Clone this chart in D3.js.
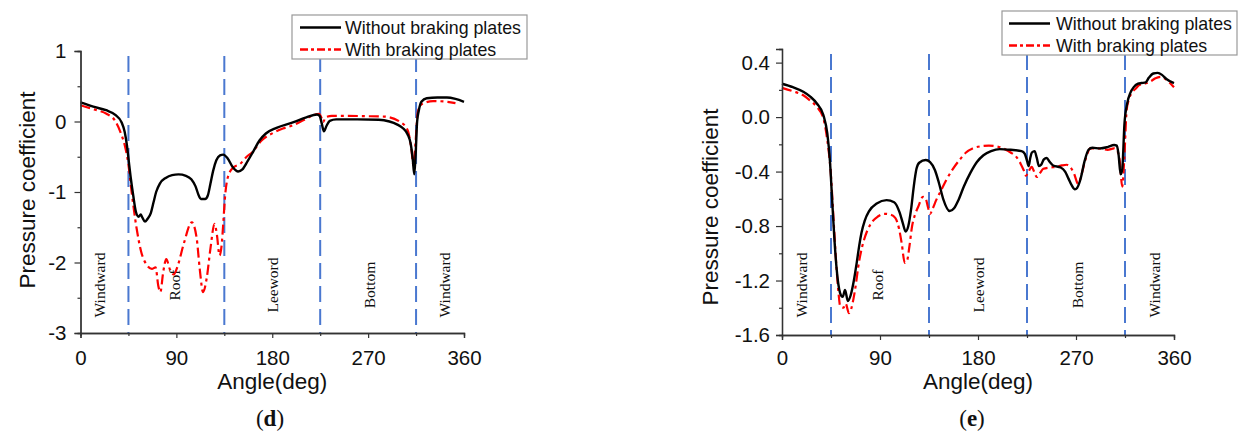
<!DOCTYPE html>
<html><head><meta charset="utf-8">
<script src="https://cdn.jsdelivr.net/npm/d3@7"></script>
<style>
html,body{margin:0;padding:0;background:#fff;}
svg{display:block;}
</style></head>
<body>
<svg id="chart" width="1239" height="432"></svg>
<script>
// ---------- data ----------
const angleTicks = [0, 90, 180, 270, 360];
const angleMinorTicks = [45, 135, 225, 315];
const dYTicks = [1, 0, -1, -2, -3];
const dYMinor = [0.5, -0.5, -1.5, -2.5];
const eYTicks = [0.4, 0.0, -0.4, -0.8, -1.2, -1.6];
const eYMinor = [0.2, -0.2, -0.6, -1.0, -1.4];
const regionBounds = [45, 135, 225, 315];
const regionNames = ["Windward", "Roof", "Leeword", "Bottom", "Windward"];
const regionAngles = [18, 88, 180, 271, 342];
const seriesNames = ["Without braking plates", "With braking plates"];

// panel (d)
const dAngWithout = [0,12,24,33,38.5,41.5,43.5,45,47,49.5,52,54.5,56.5,58,60.5,63,66,68.5,71,74.5,80,86,92,99,104,108,111,113,117,119.5,122,124.5,127.5,131,134,138,143,148,152,157,162,168,174,184,200,212,222,224.5,226.5,228.5,231,234,240,260,280,290,297,303,307,310,312,313.3,314.5,316,317.5,320,325,335,344,352,360];
const dCpWithout  = [0.27,0.21,0.16,0.09,-0.01,-0.15,-0.33,-0.52,-0.78,-1.05,-1.28,-1.35,-1.32,-1.36,-1.42,-1.38,-1.3,-1.15,-1.0,-0.88,-0.8,-0.76,-0.75,-0.77,-0.82,-0.92,-1.05,-1.1,-1.1,-1.05,-0.88,-0.7,-0.55,-0.48,-0.47,-0.52,-0.65,-0.71,-0.68,-0.56,-0.43,-0.27,-0.17,-0.09,-0.01,0.06,0.1,0.08,-0.03,-0.14,-0.06,0.01,0.03,0.03,0.025,0.0,-0.04,-0.1,-0.18,-0.32,-0.55,-0.75,-0.5,0.0,0.15,0.28,0.33,0.34,0.34,0.32,0.28];
const dAngWith = [0,12,24.4,32,38,41.6,44.7,48,52.5,57,62,67,70.5,73,75,77.5,80.5,84,87.5,91,97,104.5,109,112,115,118.5,122,125.8,128,130.5,132.3,134,135.5,138.5,143,150,156,161,170,181,190,200,212,220,224,226.5,227.8,230,236,250,270,285,300,307,310.5,312.5,314.5,316.5,319,324,331,344,352];
const dCpWith  = [0.23,0.175,0.11,0.02,-0.17,-0.34,-0.58,-1.0,-1.5,-1.85,-2.03,-2.09,-2.07,-2.33,-2.42,-2.15,-1.95,-2.1,-2.17,-2.06,-1.73,-1.43,-1.65,-2.1,-2.42,-2.22,-1.8,-1.45,-1.6,-1.9,-1.78,-1.45,-1.1,-0.78,-0.66,-0.6,-0.5,-0.44,-0.27,-0.16,-0.1,-0.05,0.04,0.1,0.11,0.04,-0.01,0.06,0.08,0.08,0.075,0.07,-0.005,-0.12,-0.38,-0.62,-0.3,0.12,0.23,0.27,0.29,0.28,0.26];

// panel (e)
const eAngWithout = [0,10,19.6,26,32,38,41.6,44,46,48,50,53.3,55.7,57.9,60.5,63,66,68.6,71,73,76,80,87,96,103,108,111,113.5,116,118.5,121,123.5,126,132,136,140.5,144,148,154,158,162,167,173,179,185,192,200,210,220,223,225,226.5,228,229.5,232,234,236,238,240.5,243,246,249,256,260,263,266,269,271,274,278,281.5,285,292,299,305,307.5,309,311,312.5,314.5,317,320,323,327,330,334,337,341,345,349,353,360];
const eCpWithout  = [0.245,0.22,0.186,0.15,0.10,0.015,-0.12,-0.32,-0.6,-0.88,-1.1,-1.29,-1.32,-1.27,-1.35,-1.31,-1.2,-1.07,-0.94,-0.85,-0.76,-0.69,-0.635,-0.61,-0.625,-0.7,-0.78,-0.84,-0.8,-0.68,-0.51,-0.38,-0.335,-0.315,-0.33,-0.39,-0.48,-0.6,-0.69,-0.67,-0.61,-0.51,-0.41,-0.33,-0.28,-0.25,-0.235,-0.24,-0.25,-0.27,-0.32,-0.36,-0.3,-0.26,-0.25,-0.3,-0.36,-0.35,-0.31,-0.3,-0.33,-0.355,-0.37,-0.4,-0.45,-0.5,-0.53,-0.52,-0.46,-0.32,-0.24,-0.225,-0.23,-0.22,-0.205,-0.21,-0.27,-0.42,-0.38,-0.05,0.1,0.18,0.22,0.245,0.25,0.255,0.29,0.32,0.325,0.31,0.28,0.25];
const eAngWith = [0,10,19.6,26,32,38,41.6,44.6,47.7,50,52,53.5,56.5,58.5,61.5,63.5,65.5,68,70,72.5,75,78,81,88,94,99,104,107.5,110,112.7,115,117,119.5,122,125,129.5,132,134,136,138.5,141.6,146,151,157,163,169,175,182,190,197,203,210,215,219,222,224,226.5,229.3,232,234,237,240,246,252,257,261.5,265,268,272,274.5,277,280,283,290,299,305,308,310,312.5,314.3,316.5,318.5,321,325,328,335,339,343,348,353,357,360];
const eCpWith  = [0.215,0.19,0.16,0.12,0.075,-0.01,-0.17,-0.39,-0.8,-1.1,-1.3,-1.39,-1.4,-1.37,-1.44,-1.41,-1.34,-1.22,-1.1,-0.99,-0.91,-0.84,-0.79,-0.73,-0.71,-0.715,-0.74,-0.82,-0.93,-1.07,-1.05,-0.95,-0.8,-0.72,-0.66,-0.585,-0.6,-0.66,-0.71,-0.67,-0.61,-0.54,-0.46,-0.38,-0.315,-0.26,-0.23,-0.215,-0.21,-0.215,-0.23,-0.26,-0.29,-0.34,-0.39,-0.43,-0.4,-0.365,-0.41,-0.44,-0.41,-0.38,-0.37,-0.365,-0.355,-0.35,-0.37,-0.41,-0.49,-0.44,-0.36,-0.28,-0.23,-0.23,-0.24,-0.23,-0.25,-0.31,-0.51,-0.31,0.05,0.13,0.175,0.21,0.235,0.25,0.265,0.285,0.295,0.275,0.245,0.22];

// ---------- layout ----------
const panels = [
  {
    x0: 80.5, x1: 464, yTop: 51, yBot: 333, yDomain: [-3, 1],
    yTicks: dYTicks, yMinor: dYMinor, yFmt: d => d3.format("d")(d).replace("−","-"),
    without: [dAngWithout, dCpWithout], withp: [dAngWith, dCpWith],
    yLabelX: 27, yLabelY: 190, tickPad: 8, xLabPad: 12,
    legend: {x: 292, y: 15, w: 235, h: 44, lx: 300, tx: 345},
    tag: "d", tagX: 270, dashTop: 56
  },
  {
    x0: 782, x1: 1174, yTop: 49, yBot: 335, yDomain: [-1.6, 0.5],
    yTicks: eYTicks, yMinor: eYMinor, yFmt: d => d3.format(".1f")(d).replace("−","-"),
    without: [eAngWithout, eCpWithout], withp: [eAngWith, eCpWith],
    yLabelX: 710, yLabelY: 207, tickPad: 6, xLabPad: 10,
    legend: {x: 1002, y: 11, w: 235, h: 44, lx: 1009, tx: 1056},
    tag: "e", tagX: 972, dashTop: 54
  }
];

const svg = d3.select("#chart");
const sans = "'Liberation Sans', Arial, sans-serif";
const serif = "'Liberation Serif', 'Times New Roman', serif";

panels.forEach(p => {
  const x = d3.scaleLinear().domain([0, 360]).range([p.x0, p.x1]);
  const y = d3.scaleLinear().domain(p.yDomain).range([p.yBot, p.yTop]);
  const g = svg.append("g");

  // region dividers
  g.selectAll("line.div").data(regionBounds).enter().append("line")
    .attr("x1", d => x(d)).attr("x2", d => x(d))
    .attr("y1", p.dashTop).attr("y2", p.yBot)
    .attr("stroke", "#4a78d0").attr("stroke-width", 2)
    .attr("stroke-dasharray", "16,7");

  // region labels
  g.selectAll("text.reg").data(regionNames).enter().append("text")
    .attr("transform", (d, i) => `translate(${x(regionAngles[i]) + 5.5},285) rotate(-90)`)
    .attr("text-anchor", "middle")
    .style("font-family", serif).style("font-size", "15.5px").attr("fill", "#111")
    .text(d => d);

  const line = d3.line().x(d => x(d[0])).y(d => y(d[1])).curve(d3.curveMonotoneX);
  const zipS = s => s[0].map((a, i) => [a, s[1][i]]);

  g.append("path").datum(zipS(p.withp)).attr("d", line)
    .attr("fill", "none").attr("stroke", "#ff0000").attr("stroke-width", 2.2)
    .attr("stroke-dasharray", "10,4,3,4");
  g.append("path").datum(zipS(p.without)).attr("d", line)
    .attr("fill", "none").attr("stroke", "#000").attr("stroke-width", 2.4);

  // axes
  g.append("g").attr("transform", `translate(${p.x0},0)`)
    .call(d3.axisLeft(y).tickValues(p.yTicks).tickFormat(p.yFmt).tickSize(6).tickPadding(p.tickPad));
  g.append("g").attr("transform", `translate(${p.x0},0)`)
    .call(d3.axisLeft(y).tickValues(p.yMinor).tickFormat("").tickSize(3));
  g.append("g").attr("transform", `translate(0,${p.yBot})`)
    .call(d3.axisBottom(x).tickValues(angleTicks).tickSize(5).tickPadding(p.xLabPad));
  g.append("g").attr("transform", `translate(0,${p.yBot})`)
    .call(d3.axisBottom(x).tickValues(angleMinorTicks).tickFormat("").tickSize(3));
  g.selectAll(".domain").attr("stroke", "#333").attr("stroke-width", 1.3);
  g.selectAll(".tick line").attr("stroke", "#333").attr("stroke-width", 1.2);
  g.selectAll(".tick text").style("font-family", sans).style("font-size", "20.5px").attr("fill", "#111");

  // axis titles
  g.append("text").attr("transform", `translate(${p.yLabelX},${p.yLabelY}) rotate(-90)`)
    .attr("text-anchor", "middle").attr("dy", "0.35em")
    .style("font-family", sans).style("font-size", "22.5px").attr("fill", "#111")
    .text("Pressure coefficient");
  g.append("text").attr("x", (p.x0 + p.x1) / 2).attr("y", 389)
    .attr("text-anchor", "middle")
    .style("font-family", sans).style("font-size", "22.5px").attr("fill", "#111")
    .text("Angle(deg)");

  // panel tag
  const t = g.append("text").attr("x", p.tagX).attr("y", 426).attr("text-anchor", "middle")
    .style("font-family", serif).style("font-size", "23px").attr("fill", "#111");
  t.append("tspan").text("(");
  t.append("tspan").style("font-weight", "bold").text(p.tag);
  t.append("tspan").text(")");

  // legend
  const L = p.legend;
  g.append("rect").attr("x", L.x).attr("y", L.y).attr("width", L.w).attr("height", L.h)
    .attr("fill", "#fff").attr("stroke", "#999").attr("stroke-width", 1.2);
  const rows = [{dash: null, color: "#000", w: 2.6}, {dash: "8,3,3,3", color: "#ff0000", w: 2.4}];
  rows.forEach((r, i) => {
    const cy = L.y + 12.5 + i * 22;
    g.append("line").attr("x1", L.lx).attr("x2", L.lx + 41).attr("y1", cy).attr("y2", cy)
      .attr("stroke", r.color).attr("stroke-width", r.w)
      .attr("stroke-dasharray", r.dash);
    g.append("text").attr("x", L.tx).attr("y", cy + 6.2)
      .style("font-family", sans).style("font-size", "17.8px").attr("fill", "#111")
      .text(seriesNames[i]);
  });
});
</script>
</body></html>
